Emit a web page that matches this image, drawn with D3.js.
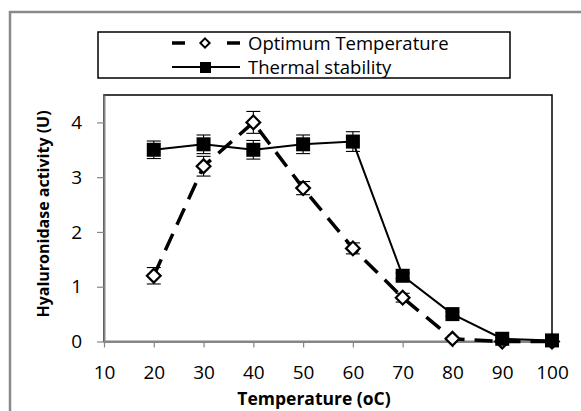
<!DOCTYPE html>
<head>
  <meta charset="UTF-8">
  <title>hyaluronidase</title>
  <style>
  body, html, svg{
    padding: 0;
    margin: 0;
  }
  body{
    background: #fff;
  }
  svg{
    display: block;
  }
  text{
    font-family: "Open Sans", sans-serif;
  }
  </style>
</head>
<body>
  <script src="https://cdn.jsdelivr.net/npm/d3@7"></script>
  <script type="text/javascript">
  // data
  var temps = [20, 30, 40, 50, 60, 70, 80, 90, 100];
  var optimum = [1.2, 3.2, 4.0, 2.8, 1.7, 0.8, 0.05, 0.0, 0.0];
  var optimumErr = [0.15, 0.18, 0.2, 0.12, 0.1, 0.08, 0.02, 0.01, 0.01];
  var thermal = [3.5, 3.6, 3.5, 3.6, 3.65, 1.2, 0.5, 0.05, 0.02];
  var thermalErr = [0.16, 0.17, 0.17, 0.17, 0.18, 0.05, 0.04, 0.02, 0.02];
  var xTicks = [10, 20, 30, 40, 50, 60, 70, 80, 90, 100];
  var yTicks = [0, 1, 2, 3, 4];
  var seriesNames = ['Optimum Temperature', 'Thermal stability'];

  var width = 581, height = 411;
  var svg = d3.select('body').append('svg')
    .attr('width', width)
    .attr('height', height);

  // outer chart border (runs off the picture on right / bottom)
  svg.append('rect')
    .attr('x', 10).attr('y', 12)
    .attr('width', 620).attr('height', 460)
    .attr('fill', 'none')
    .attr('stroke', '#8a8a8a')
    .attr('stroke-width', 2.5);

  var x = d3.scaleLinear().domain([10, 100]).range([104, 552]);
  var y = d3.scaleLinear().domain([0, 4.5]).range([341.5, 95]);

  // plot area frame
  svg.append('rect')
    .attr('x', x(10)).attr('y', y(4.5))
    .attr('width', x(100) - x(10)).attr('height', y(0) - y(4.5))
    .attr('fill', 'none')
    .attr('stroke', '#000')
    .attr('stroke-width', 1.5);

  var xAxis = svg.append('g')
    .attr('transform', 'translate(0,' + y(0) + ')')
    .call(d3.axisBottom(x).tickValues(xTicks).tickSize(6).tickSizeOuter(0).tickPadding(18));
  var yAxis = svg.append('g')
    .attr('transform', 'translate(' + x(10) + ',0)')
    .call(d3.axisLeft(y).tickValues(yTicks).tickFormat(d3.format('d'))
      .tickSize(7).tickSizeOuter(0).tickPadding(15));

  [xAxis, yAxis].forEach(function(g) {
    g.select('.domain').attr('stroke', '#868686').attr('stroke-width', 2);
    g.selectAll('.tick line').attr('stroke', '#868686').attr('stroke-width', 1.2);
    g.selectAll('.tick text')
      .attr('fill', '#000')
      .style('font-size', '19px')
      .style('font-family', '"Open Sans", sans-serif');
  });

  // axis titles
  svg.append('text')
    .attr('x', 314).attr('y', 405)
    .attr('text-anchor', 'middle')
    .style('font-size', '17.5px')
    .style('font-weight', 'bold')
    .text('Temperature (oC)');
  svg.append('text')
    .attr('transform', 'translate(49,214) rotate(-90)')
    .attr('text-anchor', 'middle')
    .style('font-size', '16px')
    .style('font-weight', 'bold')
    .text('Hyaluronidase activity (U)');

  var line = d3.line()
    .x(function(d) { return x(d[0]); })
    .y(function(d) { return y(d[1]); });

  function pairs(vals) {
    return temps.map(function(t, i) { return [t, vals[i]]; });
  }

  function errorBars(vals, errs) {
    var g = svg.append('g');
    temps.forEach(function(t, i) {
      var cx = x(t), lo = y(vals[i] - errs[i]), hi = y(vals[i] + errs[i]);
      g.append('line').attr('x1', cx).attr('x2', cx).attr('y1', lo).attr('y2', hi);
      g.append('line').attr('x1', cx - 7).attr('x2', cx + 7).attr('y1', lo).attr('y2', lo);
      g.append('line').attr('x1', cx - 7).attr('x2', cx + 7).attr('y1', hi).attr('y2', hi);
    });
    g.selectAll('line').attr('stroke', '#000').attr('stroke-width', 1.1);
  }

  var diamond = d3.symbol().type(d3.symbolDiamond2);

  // optimum temperature series (dashed, open diamonds)
  errorBars(optimum, optimumErr);
  svg.append('path')
    .datum(pairs(optimum))
    .attr('d', line)
    .attr('fill', 'none')
    .attr('stroke', '#000')
    .attr('stroke-width', 3.5)
    .attr('stroke-dasharray', '18,10');
  svg.selectAll('.dia')
    .data(pairs(optimum))
    .enter()
    .append('path')
    .attr('class', 'dia')
    .attr('transform', function(d) { return 'translate(' + x(d[0]) + ',' + y(d[1]) + ')'; })
    .attr('d', diamond.size(120))
    .attr('fill', '#fff')
    .attr('stroke', '#000')
    .attr('stroke-width', 2.2);

  // thermal stability series (solid, filled squares)
  errorBars(thermal, thermalErr);
  svg.append('path')
    .datum(pairs(thermal))
    .attr('d', line)
    .attr('fill', 'none')
    .attr('stroke', '#000')
    .attr('stroke-width', 2);
  svg.selectAll('.sq')
    .data(pairs(thermal))
    .enter()
    .append('rect')
    .attr('class', 'sq')
    .attr('x', function(d) { return x(d[0]) - 7; })
    .attr('y', function(d) { return y(d[1]) - 7; })
    .attr('width', 14).attr('height', 14)
    .attr('fill', '#000');

  // legend
  var lg = svg.append('g');
  lg.append('rect')
    .attr('x', 98).attr('y', 32)
    .attr('width', 412).attr('height', 46)
    .attr('fill', '#fff')
    .attr('stroke', '#000')
    .attr('stroke-width', 1.5);
  lg.append('line')
    .attr('x1', 172).attr('x2', 240).attr('y1', 43).attr('y2', 43)
    .attr('stroke', '#000').attr('stroke-width', 3.5)
    .attr('stroke-dasharray', '13,42');
  lg.append('path')
    .attr('transform', 'translate(205,43)')
    .attr('d', d3.symbol().type(d3.symbolDiamond2).size(55)())
    .attr('fill', '#fff').attr('stroke', '#000').attr('stroke-width', 2);
  lg.append('line')
    .attr('x1', 172).attr('x2', 240).attr('y1', 67).attr('y2', 67)
    .attr('stroke', '#000').attr('stroke-width', 2);
  lg.append('rect')
    .attr('x', 200).attr('y', 62).attr('width', 11).attr('height', 11)
    .attr('fill', '#000');
  lg.selectAll('.lt')
    .data(seriesNames)
    .enter()
    .append('text')
    .attr('class', 'lt')
    .attr('x', 248)
    .attr('y', function(d, i) { return 49.5 + i * 24; })
    .style('font-size', '18.5px')
    .text(function(d) { return d; });
  </script>
</body>
</html>
